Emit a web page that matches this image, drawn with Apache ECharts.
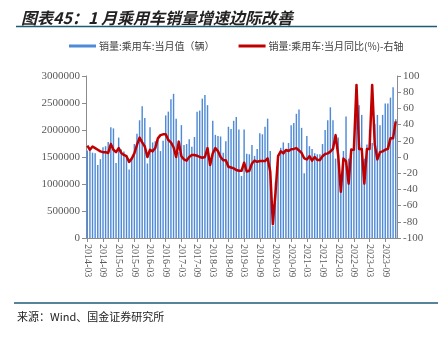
<!DOCTYPE html>
<html>
<head>
<meta charset="utf-8">
<script src="https://cdn.jsdelivr.net/npm/echarts@6/dist/echarts.min.js"></script>
<style>
  html, body { margin: 0; padding: 0; background: #ffffff; }
  #chart { width: 448px; height: 337px; }
</style>
</head>
<body>
<div id="chart"></div>
<script>
// Monthly passenger-car sales, 2014-03 .. 2024-01
const months = [
  '2014-03','2014-04','2014-05','2014-06','2014-07','2014-08','2014-09','2014-10','2014-11','2014-12',
  '2015-01','2015-02','2015-03','2015-04','2015-05','2015-06','2015-07','2015-08','2015-09','2015-10','2015-11','2015-12',
  '2016-01','2016-02','2016-03','2016-04','2016-05','2016-06','2016-07','2016-08','2016-09','2016-10','2016-11','2016-12',
  '2017-01','2017-02','2017-03','2017-04','2017-05','2017-06','2017-07','2017-08','2017-09','2017-10','2017-11','2017-12',
  '2018-01','2018-02','2018-03','2018-04','2018-05','2018-06','2018-07','2018-08','2018-09','2018-10','2018-11','2018-12',
  '2019-01','2019-02','2019-03','2019-04','2019-05','2019-06','2019-07','2019-08','2019-09','2019-10','2019-11','2019-12',
  '2020-01','2020-02','2020-03','2020-04','2020-05','2020-06','2020-07','2020-08','2020-09','2020-10','2020-11','2020-12',
  '2021-01','2021-02','2021-03','2021-04','2021-05','2021-06','2021-07','2021-08','2021-09','2021-10','2021-11','2021-12',
  '2022-01','2022-02','2022-03','2022-04','2022-05','2022-06','2022-07','2022-08','2022-09','2022-10','2022-11','2022-12',
  '2023-01','2023-02','2023-03','2023-04','2023-05','2023-06','2023-07','2023-08','2023-09','2023-10','2023-11','2023-12',
  '2024-01'
];

// 销量:乘用车:当月值（辆）
const monthlySales = [
  1620000,1610000,1580000,1570000,1350000,1460000,1680000,1700000,1780000,2050000,
  2030000,1390000,1860000,1640000,1600000,1510000,1270000,1460000,1740000,1930000,2180000,2440000,
  2220000,1380000,2050000,1770000,1790000,1810000,1610000,1800000,2270000,2340000,2570000,2670000,
  2210000,1590000,2090000,1720000,1740000,1830000,1690000,1870000,2340000,2360000,2580000,2650000,
  2460000,1480000,2170000,1910000,1890000,1880000,1580000,1790000,2060000,2020000,2170000,2240000,
  2010000,1150000,2010000,1560000,1550000,1720000,1520000,1650000,1940000,1920000,2060000,2210000,
  1610000,220000,1040000,1540000,1670000,1770000,1630000,1760000,2090000,2130000,2300000,2380000,
  2040000,1200000,1890000,1700000,1650000,1570000,1550000,1550000,1740000,2000000,2180000,2420000,
  2180000,1470000,1860000,970000,1610000,2250000,1470000,1660000,1810000,2280000,2460000,2280000,
  1470000,1730000,2010000,1760000,2110000,2280000,2090000,2280000,2490000,2490000,2600000,2790000,
  2200000
];

// 销量:乘用车:当月同比(%)
const monthlyYoY = [
  14,9,13,11,9,7,6,6,5,16,
  9,6,11,5,2.5,1,-6,-2,4.5,15,24,18,
  13,0,9,7,11,23,27,28,28,21,18,12,
  0,19,1,-3,-4.5,0,2.5,2.5,1.6,0,-1,0,
  11,-10,4.5,11,7,0,-4,-4,-12,-13,-14,-16,
  -17,-17,-7,-18,-17,-8,-4.5,-6,-5,-5,-5,-1.6,
  -18,-83,-45,1,7,4.5,8.6,7.4,9.5,10,11,8,
  5,-1.6,-3,1,-4.5,0,-3.7,-3.7,1,3.7,4.5,6.6,
  10,27,2,-43,-2,-5,-33,9,9,89,10,10,
  -33,10,10,89,15,-3,6,7,9,10,23,23,
  44
];

const seriesNames = ['销量:乘用车:当月值（辆）', '销量:乘用车:当月同比(%)-右轴'];
const titleText = '图表45：1 月乘用车销量增速边际改善';
const sourceText = '来源：Wind、国金证券研究所';

const chart = echarts.init(document.getElementById('chart'), null, { renderer: 'canvas' });

const axisGray = '#8c8c8c';
const labelGray = '#595959';
const ruleColor = '#1f5b78';
const everySixth = (idx) => idx % 6 === 0;

chart.setOption({
  animation: false,
  backgroundColor: '#ffffff',
  title: {
    text: titleText,
    left: 16,
    top: 5,
    textStyle: {
      fontFamily: 'Noto Sans CJK SC',
      fontSize: 16,
      fontWeight: 'bold',
      fontStyle: 'italic',
      color: '#222222'
    }
  },
  legend: {
    left: 64,
    top: 36,
    itemWidth: 27,
    itemHeight: 3,
    itemGap: 24,
    textStyle: { fontFamily: 'Noto Sans CJK SC', fontSize: 10, color: '#404040', padding: [0, 0, 0, -2] },
    data: [
      { name: seriesNames[0], icon: 'rect' },
      { name: seriesNames[1], icon: 'rect' }
    ]
  },
  grid: { left: 86, right: 51, top: 76, bottom: 99, containLabel: false },
  xAxis: {
    type: 'category',
    data: months,
    boundaryGap: true,
    axisLine: { lineStyle: { color: axisGray, width: 1 } },
    axisTick: { show: true, interval: everySixth, alignWithLabel: true, length: 4, lineStyle: { color: axisGray } },
    axisLabel: {
      interval: everySixth,
      rotate: -90,
      margin: 6,
      fontFamily: 'Liberation Serif',
      fontSize: 10,
      color: labelGray
    },
    splitLine: { show: false }
  },
  yAxis: [
    {
      type: 'value',
      min: 0, max: 3000000, interval: 500000,
      axisLine: { show: true, lineStyle: { color: axisGray } },
      axisTick: { show: true, length: 4, lineStyle: { color: axisGray } },
      axisLabel: {
        fontFamily: 'Liberation Serif', fontSize: 11, color: labelGray, margin: 6,
        formatter: (v) => String(v)
      },
      splitLine: { show: false }
    },
    {
      type: 'value',
      min: -100, max: 100, interval: 20,
      position: 'right',
      axisLine: { show: true, lineStyle: { color: axisGray } },
      axisTick: { show: true, length: 4, lineStyle: { color: axisGray } },
      axisLabel: {
        fontFamily: 'Liberation Serif', fontSize: 11, color: labelGray, margin: 6,
        formatter: (v) => String(v)
      },
      splitLine: { show: false }
    }
  ],
  series: [
    {
      name: seriesNames[0],
      type: 'bar',
      data: monthlySales,
      yAxisIndex: 0,
      barWidth: '55%',
      itemStyle: { color: '#4f8ad6' }
    },
    {
      name: seriesNames[1],
      type: 'line',
      data: monthlyYoY,
      yAxisIndex: 1,
      showSymbol: false,
      symbol: 'none',
      lineStyle: { color: '#c00000', width: 2.5, join: 'round' },
      itemStyle: { color: '#c00000' },
      z: 5
    }
  ],
  graphic: [
    { type: 'line', shape: { x1: 16, y1: 26.5, x2: 437, y2: 26.5 }, style: { stroke: ruleColor, lineWidth: 1.5 } },
    { type: 'line', shape: { x1: 14, y1: 303, x2: 438, y2: 303 }, style: { stroke: ruleColor, lineWidth: 1.5 } },
    {
      type: 'text', left: 17, top: 311,
      style: { text: sourceText, font: '11px "Noto Sans CJK SC"', fill: '#222222' }
    }
  ]
});
</script>
</body>
</html>
